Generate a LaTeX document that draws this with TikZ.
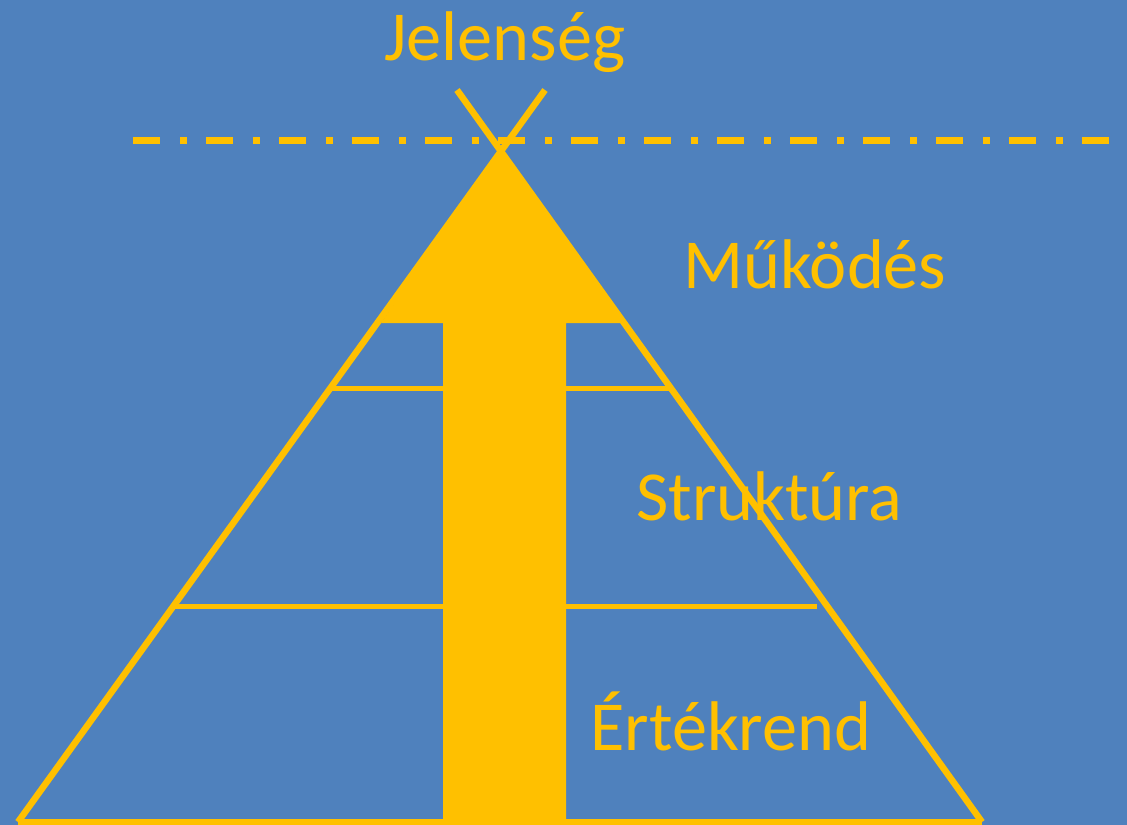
\documentclass[tikz,border=0pt]{standalone}
\usepackage{fontspec}
\setmainfont{Carlito}
\usetikzlibrary{positioning}
\definecolor{cBlue}{RGB}{79,129,189}
\definecolor{cGold}{RGB}{255,192,0}
\tikzset{
	layer/.style   ={text=cGold, font=\fontsize{40}{48}\selectfont, anchor=base west, inner sep=0pt},
	pyrline/.style ={draw=cGold, line width=0.13cm},
	tierline/.style={draw=cGold, line width=0.10cm},
	horizon/.style ={draw=cGold, line width=0.14cm, dash pattern=on 0.54cm off 0.40cm on 0.14cm off 0.38cm},
	bigarrow/.style={fill=cGold, draw=none},
}
\begin{document}
\begin{tikzpicture}[x=0.02cm, y=-0.02cm]
			\fill[cBlue] (0,0) rectangle (1127,825);
			\useasboundingbox (0,0) rectangle (1127,825);
			% pyramid corners and the crossing arms
			\coordinate (bl) at (18,822);
			\coordinate (br) at (982,822);
			\coordinate (armL) at (457,90);
			\coordinate (armR) at (545,90);
			% horizon
			\coordinate (hzA) at (133,140);
			\coordinate (hzB) at (1127,140);
			\draw[horizon] (hzA) -- (hzB);
			% upward arrow through the pyramid
			\fill[bigarrow] (443,825) -- (443,323) -- (381,323) -- (501,150) -- (623,323) -- (566,323) -- (566,825) -- cycle;
			\draw[pyrline] (bl) -- (armR);
			\draw[pyrline] (br) -- (armL);
			\draw[pyrline] (bl) -- (br);
			\draw[tierline] (331,388) -- (443,388);
			\draw[tierline] (566,388) -- (669,388);
			\draw[tierline] (174,606) -- (443,606);
			\draw[tierline] (566,606) -- (817,606);
			% labels
			\node[layer] (jel) at (384,60) {Jelenség};
			\node[layer] (muk) at (683,288) {Működés};
			\node[layer] (str) at (636,520) {Struktúra};
			\node[layer] (ert) at (590,750) {Értékrend};
\end{tikzpicture}
\end{document}
